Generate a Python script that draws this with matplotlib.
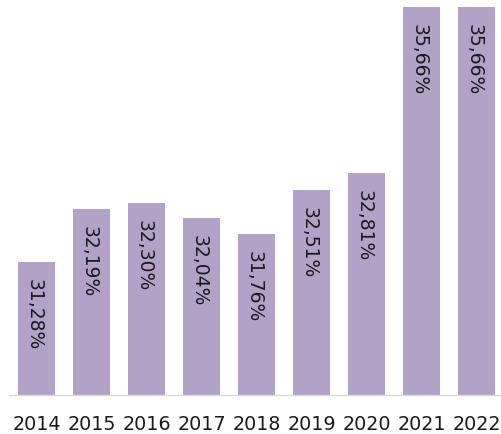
import matplotlib
matplotlib.use("Agg")
import matplotlib.pyplot as plt

# ── Data ──────────────────────────────────────────────────────────────────────
years = ["2014", "2015", "2016", "2017", "2018", "2019", "2020", "2021", "2022"]
values = [31.28, 32.19, 32.30, 32.04, 31.76, 32.51, 32.81, 35.66, 35.66]
labels = ["31,28%", "32,19%", "32,30%", "32,04%", "31,76%",
          "32,51%", "32,81%", "35,66%", "35,66%"]

BAR = "#b3a2c7"
TEXT = "#1a1a1a"

plt.rcParams["font.family"] = ["DejaVu Sans"]

fig = plt.figure(figsize=(5.01, 4.35), dpi=100)
ax = fig.add_axes([0.018, 0.0903, 0.988, 0.9098])

x = list(range(len(years)))
ax.bar(x, values, width=0.67, color=BAR, zorder=2)

# value labels, rotated, just inside the top of each bar
for xi, v, lab in zip(x, values, labels):
    ax.annotate(lab, xy=(xi, v), xytext=(-1.5, -11.5), textcoords="offset points",
                rotation=-90, ha="center", va="top", fontsize=13.5, color=TEXT)

ax.set_xlim(-0.5, 8.5)
ax.set_ylim(29, 35.8)
ax.set_xticks(x)
ax.set_xticklabels(years, fontsize=13.8, color=TEXT)
ax.tick_params(axis="x", length=0, pad=14)
ax.set_yticks([])
for side in ("top", "right", "left"):
    ax.spines[side].set_visible(False)
ax.spines["bottom"].set_color("#d9d9d9")
ax.spines["bottom"].set_linewidth(1.0)

fig.savefig("out.png", dpi=100)
